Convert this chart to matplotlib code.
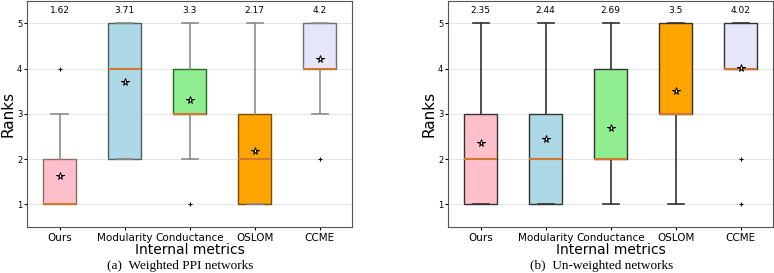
import matplotlib
matplotlib.use("Agg")
import matplotlib.pyplot as plt

# ─── Data ─────────────────────────────────────────────────────────────────────
methods = ["Ours", "Modularity", "Conductance", "OSLOM", "CCME"]
fills = ["pink", "lightblue", "lightgreen", "orange", "lavender"]

# weighted PPI networks
w_q1 = [1, 2, 3, 1, 4]
w_med = [1, 4, 3, 2, 4]
w_q3 = [2, 5, 4, 3, 5]
w_lo = [1, 2, 2, 1, 3]
w_hi = [3, 5, 5, 5, 5]
w_fliers = [[4], [], [1], [], [2]]
w_mean = [1.62, 3.71, 3.3, 2.17, 4.2]

# un-weighted networks
u_q1 = [1, 1, 2, 3, 4]
u_med = [2, 2, 2, 3, 4]
u_q3 = [3, 3, 4, 5, 5]
u_lo = [1, 1, 1, 1, 4]
u_hi = [5, 5, 5, 5, 5]
u_fliers = [[], [], [], [], [2, 1]]
u_mean = [2.35, 2.44, 2.69, 3.5, 4.02]

captions = ["(a)  Weighted PPI networks", "(b)  Un-weighted networks"]

# ─── Figure ───────────────────────────────────────────────────────────────────
fig = plt.figure(figsize=(7.74, 2.73), dpi=100)
ax_a = fig.add_axes([0.035, 0.168, 0.42, 0.83])
ax_b = fig.add_axes([0.579, 0.168, 0.42, 0.83])

left_edges = ["#8a6d6d", "#4f5f66", "#1f6b1f", "#7a4a10", "#707070"]


def draw(ax, q1, med, q3, lo, hi, fliers, means, caption, edges, whisk_col):
    stats = []
    for i in range(len(methods)):
        stats.append({"q1": q1[i], "med": med[i], "q3": q3[i],
                      "whislo": lo[i], "whishi": hi[i],
                      "fliers": fliers[i], "mean": means[i]})
    pos = list(range(1, len(methods) + 1))
    bp = ax.bxp(stats, positions=pos, widths=0.5, patch_artist=True,
                showmeans=True,
                meanprops=dict(marker="*", markerfacecolor="white",
                               markeredgecolor="black", markersize=5.5,
                               markeredgewidth=0.7),
                flierprops=dict(marker="+", markeredgecolor="black",
                                markersize=3.5, markeredgewidth=0.8),
                medianprops=dict(color="#d2772e", linewidth=1.5),
                whiskerprops=dict(color=whisk_col, linewidth=1.2),
                capprops=dict(color=whisk_col, linewidth=1.2))
    for patch, fc, ec in zip(bp["boxes"], fills, edges):
        patch.set_facecolor(fc)
        patch.set_edgecolor(ec)
        patch.set_linewidth(1.0)

    for p, m in zip(pos, means):
        ax.text(p, 5.28, f"{m:g}", ha="center", va="center", fontsize=6.5)

    ax.set_xlim(0.5, 5.5)
    ax.set_ylim(0.5, 5.5)
    ax.set_yticks([1, 2, 3, 4, 5])
    ax.set_xticks(pos)
    ax.set_xticklabels(methods, fontsize=7.5)
    ax.tick_params(axis="y", labelsize=6, length=2, pad=1.5)
    ax.tick_params(axis="x", length=2, pad=2)
    ax.grid(axis="y", color="#e6e6e6", linewidth=0.8)
    ax.set_axisbelow(True)
    ax.set_ylabel("Ranks", fontsize=11, labelpad=1)
    ax.set_xlabel("Internal metrics", fontsize=10, labelpad=0)
    for s in ax.spines.values():
        s.set_color("#555555")
    bb = ax.get_position()
    fig.text(bb.x0 + bb.width / 2 - 9 / 774, 0.026, caption, ha="center",
             va="center", fontsize=9.5, family="Liberation Serif")


draw(ax_a, w_q1, w_med, w_q3, w_lo, w_hi, w_fliers, w_mean, captions[0],
     left_edges, "#8c8c8c")
draw(ax_b, u_q1, u_med, u_q3, u_lo, u_hi, u_fliers, u_mean, captions[1],
     ["#333333"] * 5, "#333333")

fig.savefig("out.png", dpi=100)
